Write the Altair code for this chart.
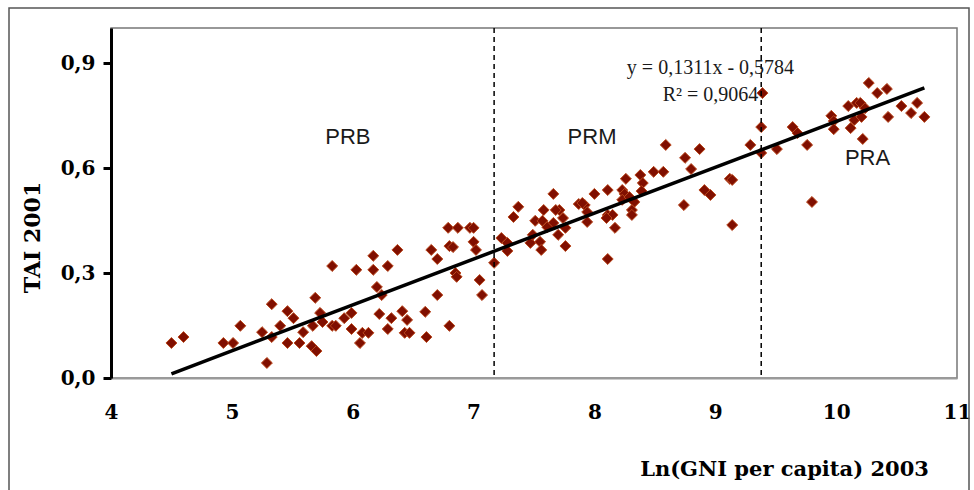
import altair as alt
import pandas as pd

# Ln(GNI per capita) 2003 and TAI 2001
gni = [4.50, 4.60, 4.93, 5.01, 5.07, 5.25, 5.33, 5.33, 5.29, 5.40,
       5.46, 5.51, 5.46, 5.56, 5.59, 5.69, 5.73, 5.67, 5.75, 5.66,
       5.70, 5.83, 5.86, 5.83, 5.93, 5.99, 5.99, 6.08, 6.13, 6.06,
       6.20, 6.22, 6.03, 6.17, 6.17, 6.29, 6.37, 6.24,
       6.32, 6.41, 6.45, 6.29, 6.43, 6.47, 6.60, 6.61, 6.65, 6.70,
       6.70, 6.80, 6.79, 6.87, 6.97, 7.00, 6.80, 6.83, 7.00, 7.02,
       6.85, 6.86, 7.05, 7.07, 7.17, 7.23, 7.28, 7.28, 7.37, 7.33,
       7.66, 7.47, 7.49, 7.51, 7.57, 7.58, 7.55, 7.56, 7.66, 7.71,
       7.74, 7.70, 7.76, 7.87, 7.92, 7.68, 7.61, 7.76, 7.94,
       8.59, 8.87, 8.75, 8.80, 8.49, 8.57, 8.38, 8.26, 8.40, 8.11,
       8.00, 8.23, 8.25, 8.39, 8.23, 8.29, 8.33, 7.90,
       7.94, 8.11, 8.15, 8.31, 8.31, 8.10, 8.17, 8.74, 8.91, 8.96,
       9.12, 9.14, 9.14, 8.11, 9.29, 9.38, 9.38, 9.51, 9.39, 9.64,
       9.68, 9.76, 9.80, 9.96, 9.98, 9.98, 10.10, 10.17, 10.20, 10.12,
       10.15, 10.21, 10.24, 10.22, 10.27, 10.34, 10.42, 10.43, 10.54, 10.62,
       10.67, 10.73]
tai = [0.100, 0.117, 0.100, 0.100, 0.149, 0.131, 0.211, 0.117, 0.043, 0.149,
       0.191, 0.171, 0.100, 0.100, 0.131, 0.229, 0.186, 0.149, 0.160, 0.091,
       0.077, 0.149, 0.149, 0.320, 0.171, 0.186, 0.140, 0.129, 0.129, 0.100,
       0.260, 0.183, 0.309, 0.349, 0.309, 0.320, 0.366, 0.237,
       0.171, 0.191, 0.166, 0.140, 0.129, 0.129, 0.189, 0.117, 0.366, 0.340,
       0.237, 0.149, 0.429, 0.429, 0.429, 0.429, 0.377, 0.374, 0.389, 0.366,
       0.300, 0.289, 0.280, 0.237, 0.329, 0.400, 0.386, 0.363, 0.489, 0.460,
       0.526, 0.386, 0.409, 0.449, 0.449, 0.480, 0.389, 0.366, 0.443, 0.480,
       0.457, 0.409, 0.377, 0.497, 0.494, 0.480, 0.431, 0.429, 0.474,
       0.666, 0.654, 0.629, 0.597, 0.589, 0.589, 0.580, 0.569, 0.557, 0.537,
       0.526, 0.537, 0.526, 0.534, 0.509, 0.517, 0.503, 0.500,
       0.446, 0.466, 0.466, 0.480, 0.466, 0.457, 0.429, 0.494, 0.537, 0.523,
       0.569, 0.566, 0.437, 0.340, 0.666, 0.717, 0.643, 0.654, 0.814, 0.717,
       0.700, 0.666, 0.503, 0.749, 0.734, 0.711, 0.777, 0.786, 0.786, 0.714,
       0.737, 0.746, 0.771, 0.683, 0.843, 0.814, 0.826, 0.746, 0.777, 0.757,
       0.786, 0.746]

# linear trend y = 0,1311x - 0,5784 (end points)
fit_x = [4.50, 10.73]
fit_y = [0.012, 0.829]

# group boundaries (dashed lines)
bounds = [7.17, 9.38]

# group labels
group_names = ["PRB", "PRM", "PRA"]
group_x = [5.96, 7.98, 10.26]
group_y = [0.689, 0.689, 0.629]

# equation text
eq_text = ["y = 0,1311x - 0,5784", "R² = 0,9064"]
eq_x = [8.96, 8.96]
eq_y = [0.886, 0.809]

x_ticks = [4, 5, 6, 7, 8, 9, 10, 11]
y_ticks = [0.0, 0.3, 0.6, 0.9]

pts = pd.DataFrame({"gni": gni, "tai": tai})
fit = pd.DataFrame({"gni": fit_x, "tai": fit_y})
bnd = pd.DataFrame({"gni": bounds})
grp = pd.DataFrame({"name": group_names, "gni": group_x, "tai": group_y})
eq = pd.DataFrame({"t": eq_text, "gni": eq_x, "tai": eq_y})

xs = alt.Scale(domain=[4, 11], nice=False, zero=False)
ys = alt.Scale(domain=[0, 1.0], nice=False, zero=False)

SERIF_B = "DejaVu Serif"

x_axis = alt.Axis(
    values=x_ticks, format="d", grid=False,
    domainColor="#9a9a9a", domainWidth=2,
    ticks=True, tickSize=0, tickColor="#9a9a9a",
    labelFont=SERIF_B, labelFontWeight="bold", labelFontSize=20,
    labelColor="black", labelPadding=34, labelBaseline="middle",
    labelFlush=False, labelOverlap=False,
    title="Ln(GNI per capita) 2003", titleFont=SERIF_B, titleFontWeight="bold",
    titleFontSize=21, titleColor="black", titleX=673, titleY=97,
    titleAlign="center", titleBaseline="alphabetic",
)
y_axis = alt.Axis(
    values=y_ticks, grid=False,
    labelExpr="replace(format(datum.value, '.1f'), '.', ',')",
    domainColor="black", domainWidth=3,
    tickColor="black", tickWidth=3, tickSize=8,
    labelFont=SERIF_B, labelFontWeight="bold", labelFontSize=20,
    labelColor="black", labelPadding=8, labelFlush=False, labelOverlap=False,
    title="TAI 2001", titleFont=SERIF_B, titleFontWeight="bold",
    titleFontSize=22, titleColor="black", titleAngle=270,
    titleX=-72, titleY=209, titleAlign="center", titleBaseline="alphabetic",
)

frame = alt.Chart(pd.DataFrame({"a": [0]})).mark_rect(
    fillOpacity=0, stroke="#555555", strokeWidth=1.5
).encode(x=alt.value(-102), x2=alt.value(858), y=alt.value(-20), y2=alt.value(480))

points = alt.Chart(pts).mark_point(
    shape="diamond", filled=True, size=120, fill="#800f00", fillOpacity=1,
    stroke="#b9471c", strokeWidth=1, opacity=1
).encode(
    x=alt.X("gni:Q", scale=xs, axis=x_axis),
    y=alt.Y("tai:Q", scale=ys, axis=y_axis),
)

dashed = alt.Chart(bnd).mark_rule(
    color="black", strokeWidth=1.5, strokeDash=[5, 4]
).encode(x=alt.X("gni:Q", scale=xs))

trend = alt.Chart(fit).mark_line(color="black", strokeWidth=3.5).encode(
    x=alt.X("gni:Q", scale=xs), y=alt.Y("tai:Q", scale=ys)
)

groups = alt.Chart(grp).mark_text(
    font="Liberation Sans", fontSize=22, color="#1a1a1a", baseline="middle", align="center"
).encode(x=alt.X("gni:Q", scale=xs), y=alt.Y("tai:Q", scale=ys), text="name:N")

eqs = alt.Chart(eq).mark_text(
    font="Liberation Serif", fontSize=20, color="#1a1a1a", baseline="middle", align="center"
).encode(x=alt.X("gni:Q", scale=xs), y=alt.Y("tai:Q", scale=ys), text="t:N")

chart = alt.layer(frame, points, dashed, trend, groups, eqs).properties(
    width=846, height=350,
    autosize=alt.AutoSizeParams(type="none"),
    padding={"left": 111, "top": 28, "right": 17, "bottom": 112},
    background="white",
).configure_view(stroke="#777777", strokeWidth=1.5)

chart.save("out.html", embed_options={"renderer": "svg", "actions": False})
